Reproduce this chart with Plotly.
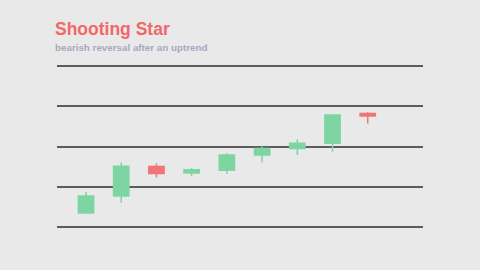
import plotly.graph_objects as go

x_idx = [0, 1, 2, 3, 4, 5, 6, 7, 8]
opens = [103.5, 107.7, 115.0, 113.4, 114.1, 117.9, 119.5, 120.8, 128.2]
closes = [107.7, 115.1, 113.3, 114.2, 117.9, 119.5, 120.8, 127.8, 127.6]
highs = [108.7, 116.1, 115.8, 114.7, 118.3, 120.0, 121.8, 127.8, 128.5]
lows = [103.4, 106.0, 112.3, 112.7, 113.2, 116.0, 117.9, 118.7, 125.7]
grid_vals = [100, 110, 120, 130, 140]

green = "#7dd6a2"
red = "#f07676"

fig = go.Figure(go.Candlestick(
    x=x_idx, open=opens, high=highs, low=lows, close=closes,
    increasing=dict(line=dict(color=green, width=1.5), fillcolor=green),
    decreasing=dict(line=dict(color=red, width=1.5), fillcolor=red),
    showlegend=False, hoverinfo="skip",
))

fig.update_layout(
    width=480, height=270,
    margin=dict(l=57, r=57, t=64, b=41),
    paper_bgcolor="#e9e9e9", plot_bgcolor="#e9e9e9",
    boxgap=0.38,
    xaxis=dict(range=[-0.824, 9.57], showgrid=False, zeroline=False,
               showticklabels=False, rangeslider=dict(visible=False), fixedrange=True),
    yaxis=dict(range=[99.5, 140.5], tickvals=grid_vals, showticklabels=False,
               showgrid=True, gridcolor="#5c5c5c", gridwidth=1.5, zeroline=False),
    annotations=[
        dict(text="<b>Shooting Star</b>", xref="paper", yref="paper",
             x=-0.01, y=1.0, xanchor="left", yanchor="bottom", yshift=23,
             showarrow=False, font=dict(family="Liberation Sans, Arial", size=17.5, color="#f0686a")),
        dict(text="<b>bearish reversal after an uptrend</b>", xref="paper", yref="paper",
             x=-0.01, y=1.0, xanchor="left", yanchor="bottom", yshift=9,
             showarrow=False, font=dict(family="Liberation Sans, Arial", size=9.8, color="#a8a8bf")),
    ],
)

fig.write_html("out.html")
